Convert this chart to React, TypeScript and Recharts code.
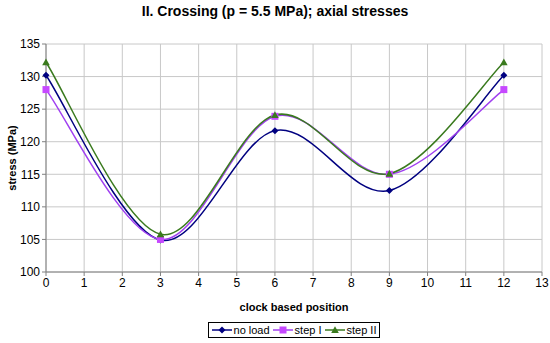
import { CartesianGrid, Label, Line, LineChart, XAxis, YAxis } from "recharts";

// ─── Data ─────────────────────────────────────────────────────────────────────
const positions = [0, 3, 6, 9, 12];
const noLoad = [130.2, 104.9, 121.7, 112.5, 130.2];
const stepI = [128.0, 105.0, 123.9, 115.0, 128.0];
const stepII = [132.2, 105.8, 124.1, 115.1, 132.2];
const xTicks = [0, 1, 2, 3, 4, 5, 6, 7, 8, 9, 10, 11, 12, 13];
const yTicks = [100, 105, 110, 115, 120, 125, 130, 135];

const data = positions.map((x, i) => ({
  x,
  noLoad: noLoad[i],
  stepI: stepI[i],
  stepII: stepII[i],
}));

const COLORS = {
  noLoad: "#000080",
  stepI: "#A040F0",
  stepIMarker: "#C648FF",
  stepII: "#3A7A1E",
} as const;

const FONT = "'Liberation Sans', Arial, sans-serif";

// Excel-like smoothed line (Catmull-Rom as bezier)
function smoothCurve(context: any) {
  let pts: [number, number][] = [];
  return {
    areaStart() {},
    areaEnd() {},
    lineStart() {
      pts = [];
    },
    point(x: number, y: number) {
      pts.push([+x, +y]);
    },
    lineEnd() {
      if (!pts.length) return;
      context.moveTo(pts[0][0], pts[0][1]);
      for (let i = 0; i < pts.length - 1; i++) {
        const p0 = pts[i - 1] || pts[i];
        const p1 = pts[i];
        const p2 = pts[i + 1];
        const p3 = pts[i + 2] || p2;
        context.bezierCurveTo(
          p1[0] + (p2[0] - p0[0]) / 6,
          p1[1] + (p2[1] - p0[1]) / 6,
          p2[0] - (p3[0] - p1[0]) / 6,
          p2[1] - (p3[1] - p1[1]) / 6,
          p2[0],
          p2[1]
        );
      }
    },
  };
}

// ─── Markers ──────────────────────────────────────────────────────────────────
function Diamond({ cx, cy, fill }: any) {
  const r = 3.5;
  return <path d={`M${cx},${cy - r}L${cx + r},${cy}L${cx},${cy + r}L${cx - r},${cy}Z`} fill={fill} />;
}
function Square({ cx, cy, fill }: any) {
  const r = 3.5;
  return <rect x={cx - r} y={cy - r} width={r * 2} height={r * 2} fill={fill} />;
}
function Triangle({ cx, cy, fill }: any) {
  const r = 3.8;
  return <path d={`M${cx},${cy - r}L${cx + r},${cy + r * 0.8}L${cx - r},${cy + r * 0.8}Z`} fill={fill} />;
}

function LegendBox() {
  const items = [
    { name: "no load", color: COLORS.noLoad, marker: <Diamond cx={10} cy={6} fill={COLORS.noLoad} /> },
    { name: "step I", color: COLORS.stepI, marker: <Square cx={10} cy={6} fill={COLORS.stepIMarker} /> },
    { name: "step II", color: COLORS.stepII, marker: <Triangle cx={10} cy={6} fill={COLORS.stepII} /> },
  ];
  return (
    <div
      style={{
        display: "inline-flex",
        alignItems: "center",
        gap: 3,
        border: "1px solid #000",
        padding: "0px 3px",
        fontFamily: FONT,
        fontSize: 11,
        lineHeight: "14px",
        color: "#000",
        background: "#fff",
      }}
    >
      {items.map((it) => (
        <span key={it.name} style={{ display: "inline-flex", alignItems: "center", gap: 2 }}>
          <svg width={20} height={12}>
            <line x1={0} y1={6} x2={20} y2={6} stroke={it.color} strokeWidth={1.5} />
            {it.marker}
          </svg>
          <span>{it.name}</span>
        </span>
      ))}
    </div>
  );
}

export default function App() {
  return (
    <div style={{ position: "absolute", left: 0, top: 0, width: 550, height: 343, background: "#fff" }}>
      <div
        style={{
          position: "absolute",
          top: 3,
          left: 0,
          width: 550,
          textAlign: "center",
          fontFamily: FONT,
          fontWeight: "bold",
          fontSize: 14,
        }}
      >
        II. Crossing (p = 5.5 MPa); axial stresses
      </div>
      <LineChart width={550} height={343} data={data} margin={{ top: 44, right: 8, bottom: 41, left: 0 }}>
        <CartesianGrid stroke="#C8C8C8" strokeWidth={1} />
        <XAxis
          dataKey="x"
          type="number"
          domain={[0, 13]}
          ticks={xTicks}
          interval={0}
          height={30}
          stroke="#808080"
          tickSize={4}
          tick={{ fill: "#000", fontSize: 12, fontFamily: FONT }}
        >
          <Label
            value="clock based position"
            position="insideBottom"
            offset={-9}
            style={{ fontFamily: FONT, fontSize: 11, fontWeight: "bold", fill: "#000" }}
          />
        </XAxis>
        <YAxis
          type="number"
          domain={[100, 135]}
          ticks={yTicks}
          interval={0}
          width={46}
          stroke="#808080"
          tickSize={4}
          tick={{ fill: "#000", fontSize: 12, fontFamily: FONT }}
        >
          <Label
            value="stress (MPa)"
            angle={-90}
            position="insideLeft"
            offset={12}
            style={{ fontFamily: FONT, fontSize: 11, fontWeight: "bold", fill: "#000", textAnchor: "middle" }}
          />
        </YAxis>
        <Line
          dataKey="noLoad"
          name="no load"
          type={smoothCurve as any}
          stroke={COLORS.noLoad}
          strokeWidth={1.5}
          dot={<Diamond fill={COLORS.noLoad} />}
          isAnimationActive={false}
        />
        <Line
          dataKey="stepI"
          name="step I"
          type={smoothCurve as any}
          stroke={COLORS.stepI}
          strokeWidth={1.5}
          dot={<Square fill={COLORS.stepIMarker} />}
          isAnimationActive={false}
        />
        <Line
          dataKey="stepII"
          name="step II"
          type={smoothCurve as any}
          stroke={COLORS.stepII}
          strokeWidth={1.5}
          dot={<Triangle fill={COLORS.stepII} />}
          isAnimationActive={false}
        />
      </LineChart>
      <div style={{ position: "absolute", top: 322, left: 0, width: 588, textAlign: "center" }}>
        <LegendBox />
      </div>
    </div>
  );
}
